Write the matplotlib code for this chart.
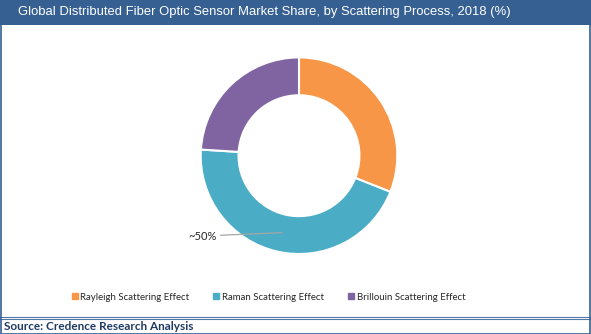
import matplotlib
matplotlib.use("Agg")
import matplotlib.pyplot as plt
from matplotlib.patches import Rectangle
from matplotlib.lines import Line2D

categories = ["Rayleigh Scattering Effect", "Raman Scattering Effect", "Brillouin Scattering Effect"]
shares = [31, 45, 24]
colors = ["#F79646", "#4BACC6", "#8064A2"]
title = "Global Distributed Fiber Optic Sensor Market Share, by Scattering Process, 2018 (%)"
source = "Source: Credence Research Analysis"
annot_label = "~50%"

W, H = 591, 334
fig = plt.figure(figsize=(W / 100, H / 100), dpi=100)
fig.patch.set_facecolor("white")

def fx(px):
    return px / W

def fy(py_top):
    return (H - py_top) / H

# title bar
fig.patches.append(Rectangle((0, fy(24.5)), 1, 24.5 / H, transform=fig.transFigure,
                             facecolor="#366092", edgecolor="none", zorder=0))
fig.text(fx(264.5), fy(12.5), title, color="white", fontsize=9.4,
         family="Liberation Sans", ha="center", va="center")

# outer border
fig.patches.append(Rectangle((0.5 / W, 0.5 / H), 1 - 1.5 / W, 1 - 1.0 / H, transform=fig.transFigure,
                             facecolor="none", edgecolor="#366092", linewidth=1.2, zorder=5))
# double line above source
for yy in (316.5, 319.0):
    fig.add_artist(Line2D([0, 1], [fy(yy), fy(yy)], transform=fig.transFigure,
                          color="#4F78A8", linewidth=0.8))

fig.text(fx(4), fy(326.5), source, color="#1F3B63", fontsize=8.5, fontweight="bold",
         family="Lato", ha="left", va="center")

# donut
cx, cy, r = 299.0, 155.7, 98.3
size = 2 * r
ax = fig.add_axes([fx(cx - r), fy(cy + r), size / W, size / H])
wedges, _ = ax.pie(shares, colors=colors, startangle=90, counterclock=False, radius=1.0,
                   wedgeprops=dict(width=0.385, edgecolor="white", linewidth=1.5))
ax.set_xlim(-1, 1)
ax.set_ylim(-1, 1)
ax.set_aspect("equal")
ax.axis("off")

ax.annotate(annot_label, xy=(-0.173, -0.783), xytext=(-0.84, -0.817),
            ha="right", va="center", fontsize=8.0, color="#262626", family="Lato",
            arrowprops=dict(arrowstyle="-", color="#A6A6A6", lw=0.9, shrinkA=1, shrinkB=0))

handles = [Line2D([], [], marker="s", linestyle="none", markersize=4.0, color=c) for c in colors]
fig.legend(handles, categories, loc="center", bbox_to_anchor=(fx(268.5), fy(297)), ncol=3,
           frameon=False, prop=dict(family="Lato", size=6.9), handlelength=0.6,
           handletextpad=0.3, columnspacing=2.5, labelcolor="#262626")

fig.savefig("out.png", dpi=100, facecolor="white")
